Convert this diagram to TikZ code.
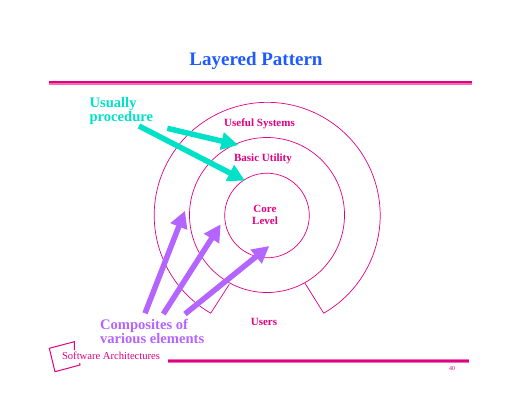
\documentclass[tikz,border=0pt]{standalone}
\usepackage{xcolor}
\usepackage{fontspec}
\usetikzlibrary{arrows.meta}
\setmainfont{Liberation Serif}

\begin{document}
\begin{tikzpicture}[x=1pt,y=-1pt,
    layerlabel/.style={font=\bfseries\fontsize{11}{12}\selectfont,text=lpink,align=center},
    biglabel/.style={font=\bfseries\fontsize{14.6}{14}\selectfont,align=left,anchor=west},
    fatarrow/.style={line width=5.5pt,-{Triangle[length=17pt,width=17pt]}}]
  \definecolor{lpink}{RGB}{225,0,130}
  \definecolor{lrose}{RGB}{240,110,180}
  \definecolor{lteal}{RGB}{0,225,200}
  \definecolor{lpurple}{RGB}{180,100,255}
  \definecolor{lblue}{RGB}{30,90,255}
  \useasboundingbox (0,0) rectangle (520,402);
  % title and rules
  \node[font=\bfseries\fontsize{19}{22}\selectfont,text=lblue] (title) at (256,61) {Layered Pattern};
  \fill[lrose] (49,81) rectangle (472,84.5);
  \fill[lpink] (49,81) rectangle (472,83.2);
  \fill[lrose] (168,359.2) rectangle (469,362.8);
  \fill[lpink] (168,360.2) rectangle (469,361.8);
  % layers
  \draw[lpink,line width=0.7pt] (267,215.5) circle[radius=42.3pt];
  \draw[lpink,line width=0.7pt] (267,215) circle[radius=77.5pt];
  \coordinate (gapl) at (210.7,313.2);
  \coordinate (gapr) at (324,313);
  \draw[lpink,line width=0.7pt] (229.3,284.3) -- (gapl)
    arc[start angle=240,end angle=-60,radius=113pt] -- (305,283.3);
  \node[layerlabel] (useful) at (259.5,124) {Useful Systems};
  \node[layerlabel] (basic) at (263,159) {Basic Utility};
  \node[layerlabel] (core) at (265,214.5) {Core\\Level};
  \node[layerlabel] (users) at (264,322) {Users};
  % callouts
  \node[biglabel,text=lteal] (usually) at (86,111) {Usually\\procedure};
  \node[biglabel,text=lpurple] (composites) at (96.5,331.5) {Composites of\\various elements};
  \coordinate (ta1) at (167.3,128.3);
  \coordinate (tb1) at (238.3,145);
  \coordinate (ta2) at (139,126);
  \coordinate (tb2) at (245,180.7);
  \coordinate (pa1) at (145,313.3);
  \coordinate (pb1) at (185,210.7);
  \coordinate (pa2) at (163.3,314);
  \coordinate (pb2) at (220.7,224.3);
  \coordinate (pa3) at (185,314);
  \coordinate (pb3) at (269.3,246);
  \foreach \a/\b in {ta1/tb1, ta2/tb2} \draw[fatarrow,lteal] (\a) -- (\b);
  \foreach \a/\b in {pa1/pb1, pa2/pb2, pa3/pb3} \draw[fatarrow,lpurple] (\a) -- (\b);
  % footer
  \draw[lpink,line width=1pt] (74.3,350) -- (74.3,341.7) -- (49.3,348.3) -- (55,371.7) -- (80,365) -- (79.7,363);
  \node[font=\fontsize{10.6}{12}\selectfont,text=lpink,anchor=west] (footer) at (58.5,356) {Software Architectures};
  \node[font=\fontsize{6}{7}\selectfont,text=lpink] (page) at (452,369) {40};
\end{tikzpicture}
\end{document}
